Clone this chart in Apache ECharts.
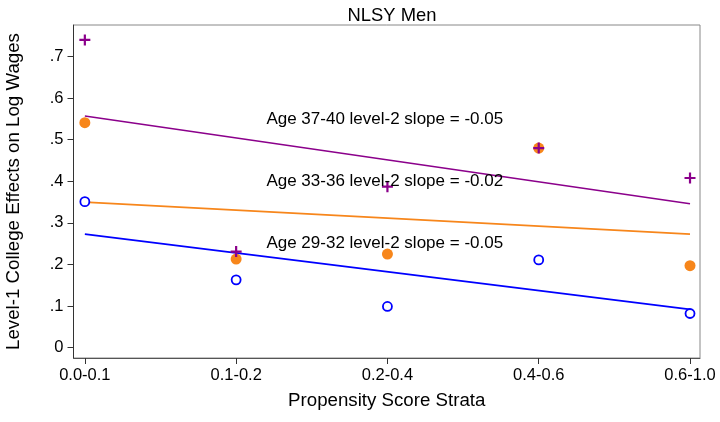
<!DOCTYPE html>
<html>
<head>
<meta charset="utf-8">
<script src="https://cdn.jsdelivr.net/npm/echarts@6/dist/echarts.min.js"></script>
<style>html,body{margin:0;padding:0;background:#fff}#c{width:720px;height:422px}</style>
</head>
<body>
<div id="c"></div>
<script>
// ---- data ----
var strata = ['0.0-0.1', '0.1-0.2', '0.2-0.4', '0.4-0.6', '0.6-1.0'];
var yTicks = [0, 0.1, 0.2, 0.3, 0.4, 0.5, 0.6, 0.7];
var age2932 = [0.351, 0.163, 0.099, 0.211, 0.082];
var age3336 = [0.541, 0.213, 0.225, 0.480, 0.197];
var age3740 = [0.740, 0.231, 0.387, 0.480, 0.408];
// fitted level-2 lines (value at first and last stratum)
var fit2932 = [0.273, 0.092];
var fit3336 = [0.350, 0.273];
var fit3740 = [0.557, 0.346];
var noteText = ['Age 37-40 level-2 slope = -0.05', 'Age 33-36 level-2 slope = -0.02', 'Age 29-32 level-2 slope = -0.05'];
var noteX = [1.2, 1.2, 1.2];
var noteY = [0.55, 0.40, 0.25];

var FONT = '"Liberation Sans", Arial, Helvetica, sans-serif';
var PURPLE = '#8B008B', ORANGE = '#F7861B', BLUE = '#0000FF';
var plus = 'path://M4,0 H6 V4 H10 V6 H6 V10 H4 V6 H0 V4 H4 Z';

function pts(arr) { return arr.map(function (v, i) { return [i, v]; }); }
function fitPts(f) { return [[0, f[0]], [strata.length - 1, f[1]]]; }

var chart = echarts.init(document.getElementById('c'), null, {renderer: 'canvas'});
chart.setOption({
  animation: false,
  backgroundColor: '#fff',
  title: {
    text: 'NLSY Men', left: 387, top: 2, textAlign: 'center',
    textStyle: {fontFamily: FONT, fontSize: 18.4, fontWeight: 'normal', color: '#000'}
  },
  grid: {left: 73.5, right: 20, top: 25, bottom: 64, outerBoundsMode: 'none', containLabel: false,
         show: true, borderColor: '#888', borderWidth: 1, backgroundColor: '#fff'},
  xAxis: {
    type: 'value', min: -0.075, max: 4.066,
    name: 'Propensity Score Strata', nameLocation: 'middle', nameGap: 33,
    nameTextStyle: {fontFamily: FONT, fontSize: 18.7, color: '#000'},
    axisLine: {show: true, onZero: false, lineStyle: {color: '#555', width: 1}},
    axisTick: {show: true, length: 6, inside: false, customValues: [0, 1, 2, 3, 4], lineStyle: {color: '#333'}},
    axisLabel: {
      customValues: [0, 1, 2, 3, 4], margin: 9,
      fontFamily: FONT, fontSize: 16.5, color: '#000',
      formatter: function (v) { return strata[Math.round(v)]; }
    },
    splitLine: {show: false}
  },
  yAxis: {
    type: 'value', min: -0.025, max: 0.776,
    name: 'Level-1 College Effects on Log Wages', nameLocation: 'middle', nameGap: 50, nameRotate: 90,
    nameTextStyle: {fontFamily: FONT, fontSize: 18.7, color: '#000'},
    axisLine: {show: true, onZero: false, lineStyle: {color: '#333', width: 1}},
    axisTick: {show: true, length: 6, customValues: yTicks, lineStyle: {color: '#333'}},
    axisLabel: {
      customValues: yTicks, margin: 10,
      fontFamily: FONT, fontSize: 16.5, color: '#000',
      formatter: function (v) { var s = (Math.round(v * 10) / 10).toString(); return s === '0' ? '0' : s.replace(/^0/, ''); }
    },
    splitLine: {show: false}
  },
  series: [
    {type: 'line', data: fitPts(fit2932), symbol: 'none', lineStyle: {color: BLUE, width: 1.6}, z: 2},
    {type: 'line', data: fitPts(fit3336), symbol: 'none', lineStyle: {color: ORANGE, width: 1.6}, z: 2},
    {type: 'line', data: fitPts(fit3740), symbol: 'none', lineStyle: {color: PURPLE, width: 1.6}, z: 2},
    {type: 'scatter', data: pts(age2932), symbol: 'circle', symbolSize: 9,
     itemStyle: {color: '#fff', borderColor: BLUE, borderWidth: 1.8, opacity: 1}, z: 3},
    {type: 'scatter', data: pts(age3336), symbol: 'circle', symbolSize: 11,
     itemStyle: {color: ORANGE, opacity: 1}, z: 4},
    {type: 'scatter', data: pts(age3740), symbol: plus, symbolSize: 11,
     itemStyle: {color: PURPLE, opacity: 1}, z: 5},
    {type: 'scatter', symbolSize: 0, z: 6, itemStyle: {opacity: 1},
     data: noteText.map(function (t, i) { return {value: [noteX[i], noteY[i]], name: t}; }),
     label: {show: true, position: 'right', distance: 0, formatter: function (p) { return p.name; },
             fontFamily: FONT, fontSize: 17, color: '#000'}}
  ]
});
</script>
</body>
</html>
